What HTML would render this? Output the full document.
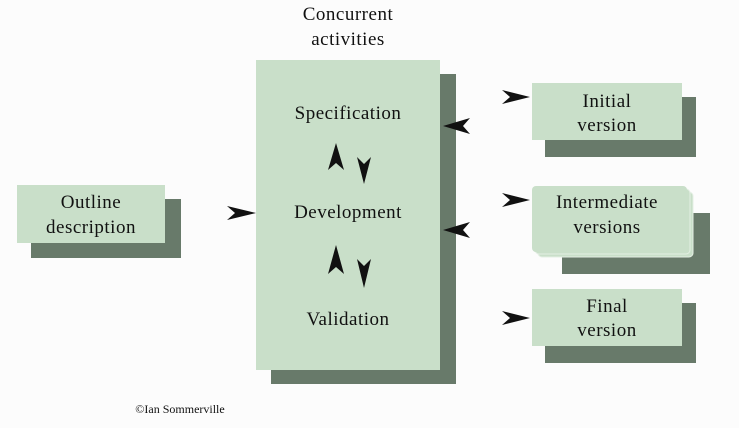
<!DOCTYPE html>
<html><head><style>
body{margin:0;background:#fcfcfc;}
svg{display:block;}
text{font-family:"Liberation Serif",serif;font-size:19px;letter-spacing:0.5px;fill:#111;text-anchor:middle;}
</style></head><body>
<svg width="739" height="428" viewBox="0 0 739 428">
<rect width="739" height="428" fill="#fcfcfc"/>
<g fill="#687a6a">
<rect x="31" y="199" width="150" height="59"/>
<rect x="271" y="74" width="185" height="310"/>
<rect x="545" y="97" width="151" height="60"/>
<rect x="562" y="213" width="148" height="61"/>
<rect x="545" y="303" width="151" height="60"/>
</g>
<g fill="#c9dfc9">
<rect x="17" y="185" width="148" height="58"/>
<rect x="256" y="60" width="184" height="310"/>
<rect x="532" y="83" width="150" height="57"/>
<rect x="538" y="192" width="155" height="65" rx="4" stroke="#e4efe4" stroke-width="1"/>
<rect x="535" y="189" width="155" height="65" rx="4" stroke="#e4efe4" stroke-width="1"/>
<rect x="532" y="186" width="155" height="66" rx="4"/>
<rect x="532" y="289" width="150" height="57"/>
</g>
<text x="91" y="208">Outline</text>
<text x="91" y="233">description</text>
<text x="348" y="20">Concurrent</text>
<text x="348" y="45">activities</text>
<text x="348" y="119">Specification</text>
<text x="348" y="218">Development</text>
<text x="348" y="325">Validation</text>
<text x="607" y="107">Initial</text>
<text x="607" y="131">version</text>
<text x="607" y="208">Intermediate</text>
<text x="607" y="233">versions</text>
<text x="607" y="312">Final</text>
<text x="607" y="336">version</text>
<g fill="#111">
<path d="M256,213 L227,206 L235,213 L227,220 Z"/>
<path d="M530,97 L502,90 L510,97 L502,104 Z"/>
<path d="M530,200 L502,193 L510,200 L502,207 Z"/>
<path d="M530,318 L502,311 L510,318 L502,325 Z"/>
<path d="M443,126 L470,118 L463,126 L470,134 Z"/>
<path d="M443,230 L470,222 L463,230 L470,238 Z"/>
<path d="M336,143 L328,170 L336,163 L344,170 Z"/>
<path d="M364,184 L357,157 L364,164 L371,157 Z"/>
<path d="M336,245 L328,274 L336,267 L344,274 Z"/>
<path d="M364,288 L357,259 L364,266 L371,259 Z"/>
</g>
<text x="180" y="413" style="font-size:12px;letter-spacing:0">©Ian Sommerville</text>
</svg>
</body></html>
